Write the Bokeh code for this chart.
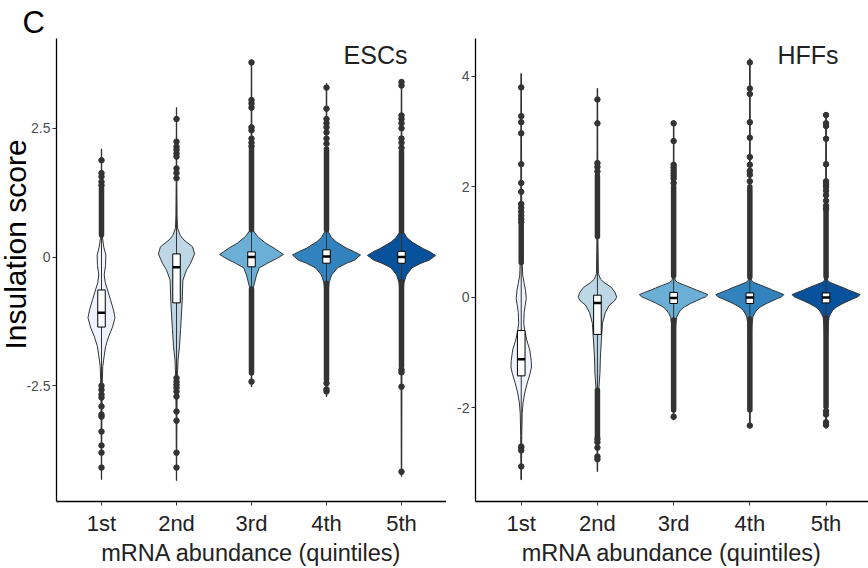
import numpy as np
from bokeh.plotting import figure
from bokeh.layouts import row
from bokeh.models import FixedTicker, Label, Range1d, Title
from bokeh.embed import file_html
from bokeh.resources import INLINE

FONT = "Liberation Sans"

quintiles = ["1st", "2nd", "3rd", "4th", "5th"]
blues = ["#eff3ff", "#bdd7e7", "#6baed6", "#3182bd", "#08519c"]

# ---------------- ESCs ----------------
# violin outlines: insulation-score levels and half-widths (category units)
esc_violin_y = [
    [2.10, 1.20, 0.60, 0.39, 0.19, 0.04, -0.16, -0.35, -0.50, -0.64, -0.83, -1.03, -1.18, -1.36, -1.55, -1.74, -1.94, -2.13, -2.50, -3.20, -4.32],
    [2.90, 1.50, 0.80, 0.56, 0.42, 0.33, 0.20, 0.06, -0.12, -0.25, -0.45, -0.89, -1.41, -1.74, -2.00, -2.40, -3.20, -4.34],
    [3.80, 2.00, 0.80, 0.52, 0.40, 0.27, 0.17, 0.10, 0.05, -0.02, -0.12, -0.21, -0.35, -0.58, -0.90, -1.60, -2.52],
    [3.37, 2.00, 0.80, 0.50, 0.38, 0.29, 0.17, 0.10, 0.04, -0.06, -0.12, -0.21, -0.35, -0.50, -0.80, -1.60, -2.71],
    [3.43, 2.00, 0.80, 0.50, 0.38, 0.29, 0.17, 0.10, 0.03, -0.06, -0.12, -0.21, -0.35, -0.50, -0.80, -1.60, -4.26],
]
esc_violin_w = [
    [0.002, 0.004, 0.008, 0.012, 0.031, 0.058, 0.054, 0.036, 0.050, 0.080, 0.120, 0.160, 0.180, 0.147, 0.094, 0.054, 0.034, 0.017, 0.009, 0.005, 0.002],
    [0.002, 0.004, 0.008, 0.014, 0.050, 0.100, 0.214, 0.241, 0.188, 0.134, 0.085, 0.075, 0.054, 0.040, 0.020, 0.010, 0.005, 0.002],
    [0.003, 0.005, 0.011, 0.020, 0.080, 0.188, 0.304, 0.375, 0.425, 0.349, 0.214, 0.103, 0.067, 0.027, 0.013, 0.007, 0.003],
    [0.003, 0.005, 0.011, 0.020, 0.067, 0.134, 0.268, 0.375, 0.453, 0.375, 0.268, 0.147, 0.067, 0.034, 0.013, 0.007, 0.003],
    [0.003, 0.005, 0.011, 0.020, 0.070, 0.140, 0.280, 0.380, 0.455, 0.370, 0.260, 0.140, 0.065, 0.032, 0.013, 0.007, 0.003],
]
esc_q1 = [-1.36, -0.89, -0.19, -0.12, -0.12]
esc_med = [-1.08, -0.20, 0.00, 0.01, 0.00]
esc_q3 = [-0.64, 0.06, 0.10, 0.14, 0.11]
esc_min = [-4.32, -4.34, -2.52, -2.71, -4.26]
esc_max = [2.10, 2.90, 3.80, 3.37, 3.43]
# outliers: runs packed so densely they merge, and single points
esc_run_lo = [[0.43], [], [0.53, -2.25], [0.53, -2.38], [0.50, -2.13]]
esc_run_hi = [[1.33], [], [2.10, -0.62], [2.10, -0.51], [2.05, -0.48]]
esc_points = [
    [1.88, 1.63, 1.56, 1.46, 1.39, -2.50, -2.58, -2.67, -2.73, -2.90, -3.06, -3.10, -3.39, -3.66, -3.80, -4.09],
    [2.68, 2.24, 2.14, 2.08, 2.01, 1.95, 1.72, 1.63, 1.53, -2.35, -2.42, -2.48, -2.54, -2.61, -2.71, -3.00, -3.18, -3.80, -4.09],
    [3.78, 3.05, 2.98, 2.90, 2.52, 2.46, 2.30, 2.22, 2.15, -2.42],
    [3.29, 2.88, 2.68, 2.60, 2.52, 2.42, 2.30, 2.20, -2.45, -2.57, -2.61],
    [3.40, 3.33, 2.75, 2.68, 2.60, 2.50, 2.30, 2.22, 2.12, -2.19, -2.24, -2.52, -4.17],
]
esc_ticks = [-2.5, 0, 2.5]
esc_tick_labels = ["-2.5", "0", "2.5"]

# ---------------- HFFs ----------------
hff_violin_y = [
    [4.05, 2.00, 0.63, 0.40, 0.25, 0.13, -0.02, -0.15, -0.27, -0.47, -0.60, -0.77, -0.95, -1.14, -1.26, -1.37, -1.55, -1.73, -1.91, -2.10, -2.50, -3.30],
    [3.78, 1.10, 0.43, 0.33, 0.27, 0.18, 0.08, 0.00, -0.07, -0.14, -0.27, -0.47, -0.77, -1.08, -1.37, -1.62, -1.80, -2.50, -3.15],
    [3.19, 1.00, 0.45, 0.31, 0.27, 0.22, 0.17, 0.13, 0.09, 0.05, 0.01, -0.02, -0.06, -0.11, -0.17, -0.23, -0.30, -0.36, -0.50, -1.00, -1.60, -2.22],
    [4.32, 1.00, 0.45, 0.31, 0.27, 0.22, 0.17, 0.13, 0.09, 0.05, 0.01, -0.02, -0.06, -0.11, -0.17, -0.23, -0.30, -0.36, -0.50, -1.00, -1.60, -2.36],
    [3.33, 1.00, 0.45, 0.31, 0.27, 0.22, 0.17, 0.13, 0.09, 0.05, 0.01, -0.02, -0.06, -0.11, -0.17, -0.23, -0.30, -0.36, -0.50, -1.00, -1.60, -2.37],
]
hff_violin_w = [
    [0.003, 0.005, 0.013, 0.020, 0.039, 0.056, 0.066, 0.052, 0.039, 0.033, 0.046, 0.072, 0.112, 0.131, 0.135, 0.118, 0.079, 0.046, 0.024, 0.013, 0.007, 0.003],
    [0.003, 0.006, 0.013, 0.040, 0.088, 0.184, 0.235, 0.253, 0.220, 0.157, 0.105, 0.066, 0.052, 0.039, 0.033, 0.020, 0.010, 0.005, 0.003],
    [0.003, 0.005, 0.010, 0.020, 0.052, 0.144, 0.236, 0.302, 0.381, 0.450, 0.420, 0.367, 0.302, 0.223, 0.144, 0.092, 0.059, 0.039, 0.026, 0.013, 0.007, 0.003],
    [0.003, 0.005, 0.010, 0.020, 0.052, 0.144, 0.236, 0.300, 0.378, 0.446, 0.418, 0.365, 0.300, 0.221, 0.142, 0.090, 0.058, 0.039, 0.026, 0.013, 0.007, 0.003],
    [0.003, 0.005, 0.010, 0.020, 0.052, 0.144, 0.236, 0.300, 0.378, 0.446, 0.418, 0.365, 0.300, 0.221, 0.142, 0.090, 0.058, 0.039, 0.026, 0.013, 0.007, 0.003],
]
hff_q1 = [-1.42, -0.67, -0.11, -0.11, -0.10]
hff_med = [-1.12, -0.10, -0.01, 0.00, 0.00]
hff_q3 = [-0.60, 0.04, 0.09, 0.08, 0.08]
hff_min = [-3.30, -3.15, -2.22, -2.36, -2.37]
hff_max = [4.05, 3.78, 3.19, 4.32, 3.33]
hff_run_lo = [[0.63], [1.10, -2.52], [0.39, -2.04], [0.37, -2.04], [0.38, -1.98]]
hff_run_hi = [[1.30], [2.20, -1.68], [2.00, -0.41], [2.00, -0.39], [1.55, -0.37]]
hff_points = [
    [3.80, 3.28, 3.17, 2.97, 2.41, 2.07, 1.91, 1.69, 1.62, 1.55, 1.48, 1.42, 1.36, -2.70, -2.72, -2.77, -3.06],
    [3.58, 3.15, 2.43, 2.36, 2.28, -2.56, -2.62, -2.72, -2.88, -2.93],
    [3.15, 2.83, 2.40, 2.35, 2.30, 2.25, 2.20, 2.15, 2.07, -2.16],
    [4.25, 3.78, 3.68, 3.17, 2.89, 2.54, 2.40, 2.29, 2.22, 2.10, -2.32],
    [3.30, 3.15, 3.10, 2.87, 2.41, 2.10, 2.05, 2.00, 1.93, 1.85, 1.75, 1.66, 1.60, -2.06, -2.12, -2.26, -2.31],
]
hff_ticks = [-2, 0, 2, 4]
hff_tick_labels = ["-2", "0", "2", "4"]

INK = "#333333"
BOX_HALF = 0.05
HEIGHT = 568
TOP = 38
BOTTOM = 66


def violin_panel(width, border_left, x_end, y_lo, y_hi,
                 vy, vw, q1, med, q3, vmin, vmax, run_lo, run_hi, points,
                 ticks, tick_labels, name, name_right):
    p = figure(width=width, height=HEIGHT, x_range=Range1d(0.4, x_end),
               y_range=Range1d(y_lo, y_hi), output_backend="svg",
               toolbar_location=None, min_border_left=border_left,
               min_border_right=0, min_border_top=TOP, min_border_bottom=BOTTOM)
    p.outline_line_color = None
    p.xgrid.visible = False
    p.ygrid.visible = False
    p.background_fill_color = "white"
    p.border_fill_color = "white"

    centers = list(range(1, len(quintiles) + 1))

    # violins
    xs, ys = [], []
    for c, yy, ww in zip(centers, vy, vw):
        yy = np.asarray(yy)
        ww = np.asarray(ww)
        xs.append(np.concatenate([c - ww, (c + ww)[::-1]]))
        ys.append(np.concatenate([yy, yy[::-1]]))
    p.patches(xs, ys, fill_color=blues, line_color=INK, line_width=1)

    # data range / whisker line
    p.segment(x0=centers, y0=vmin, x1=centers, y1=vmax, line_color=INK, line_width=1)

    # boxes and medians
    left = [c - BOX_HALF for c in centers]
    right = [c + BOX_HALF for c in centers]
    p.quad(left=left, right=right, bottom=q1, top=q3, fill_color="white",
           line_color="black", line_width=1)
    p.segment(x0=left, y0=med, x1=right, y1=med, line_color="black", line_width=2.5)

    # outliers
    rx, rlo, rhi = [], [], []
    for c, lo, hi in zip(centers, run_lo, run_hi):
        for a, b in zip(lo, hi):
            rx.append(c)
            rlo.append(a)
            rhi.append(b)
    p.segment(x0=rx, y0=rlo, x1=rx, y1=rhi, line_color=INK, line_width=5.5,
              line_cap="round")
    px_, py_ = [], []
    for c, pts in zip(centers, points):
        px_ += [c] * len(pts)
        py_ += pts
    p.scatter(px_, py_, size=5.5, fill_color=INK, line_color=INK)

    # axes
    p.xaxis.ticker = FixedTicker(ticks=centers)
    p.xaxis.major_label_overrides = {c: q for c, q in zip(centers, quintiles)}
    p.yaxis.ticker = FixedTicker(ticks=ticks)
    p.yaxis.major_label_overrides = {t: s for t, s in zip(ticks, tick_labels)}
    for ax in (p.xaxis[0], p.yaxis[0]):
        ax.axis_line_color = "black"
        ax.axis_line_width = 1.3
        ax.major_tick_line_color = INK
        ax.major_tick_line_width = 1
        ax.major_tick_out = 4
        ax.major_tick_in = 0
        ax.minor_tick_line_color = None
    p.yaxis.major_label_text_font = FONT
    p.yaxis.major_label_text_font_size = "14px"
    p.yaxis.major_label_text_color = "#4d4d4d"
    p.yaxis.major_label_standoff = 2
    p.xaxis.major_label_text_font = FONT
    p.xaxis.major_label_text_font_size = "22px"
    p.xaxis.major_label_text_color = "#222222"
    p.xaxis.major_label_standoff = 5
    p.xaxis.axis_label = "mRNA abundance (quintiles)"
    p.xaxis.axis_label_text_font = FONT
    p.xaxis.axis_label_text_font_size = "23.5px"
    p.xaxis.axis_label_text_font_style = "normal"
    p.xaxis.axis_label_text_color = "#222222"
    p.xaxis.axis_label_standoff = 1

    # cell-type name in the top-right corner (pixels from the frame's bottom-left)
    frame_h = HEIGHT - TOP - BOTTOM
    p.add_layout(Label(x=name_right, y=frame_h - 17, x_units="screen", y_units="screen",
                       text=name, text_font=FONT, text_font_size="25px",
                       text_color="#222222", text_align="right",
                       text_baseline="alphabetic"))
    return p


left = violin_panel(446, 56, 5.6, -4.748, 4.244,
                    esc_violin_y, esc_violin_w, esc_q1, esc_med, esc_q3,
                    esc_min, esc_max, esc_run_lo, esc_run_hi, esc_points,
                    esc_ticks, esc_tick_labels, "ESCs", 351)
right = violin_panel(422, 29, 5.557, -3.694, 4.685,
                     hff_violin_y, hff_violin_w, hff_q1, hff_med, hff_q3,
                     hff_min, hff_max, hff_run_lo, hff_run_hi, hff_points,
                     hff_ticks, hff_tick_labels, "HFFs", 363)

# shared y title (left border), starting 152 px above the frame bottom
left.add_layout(Title(text="Insulation score", align="left", offset=152, standoff=-16,
                      text_font=FONT, text_font_size="30px",
                      text_font_style="normal", text_color="black"), "left")

left.title = Title(text="C", align="left", offset=-34, standoff=-3,
                   text_font=FONT, text_font_size="31px",
                   text_font_style="normal", text_color="black")

layout = row(left, right)
open("out.html", "w").write(file_html(layout, INLINE))
